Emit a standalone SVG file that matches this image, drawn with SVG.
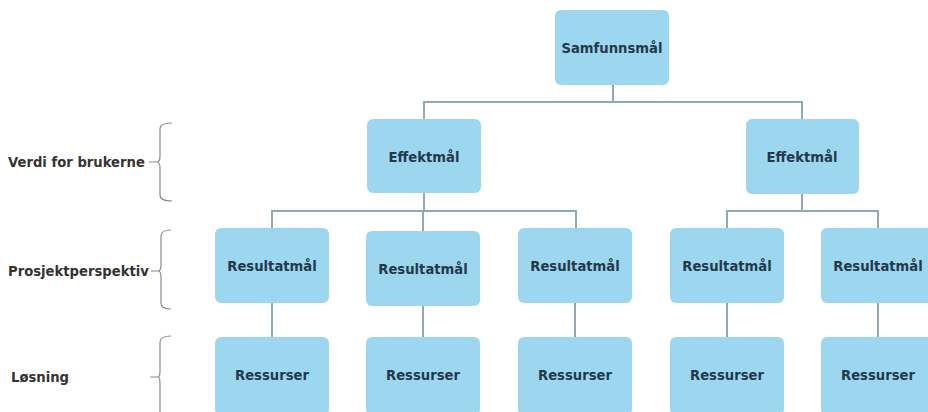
<svg xmlns="http://www.w3.org/2000/svg" width="928" height="412" viewBox="0 0 928 412">
  <style>
    .box { fill: #9dd6ef; }
    .lbl { font-family: "DejaVu Sans", Verdana, sans-serif; font-weight: bold; font-size: 13.2px; fill: #23394a; text-anchor: middle; dominant-baseline: central; }
    .side { font-family: "DejaVu Sans", Verdana, sans-serif; font-weight: bold; font-size: 13.2px; fill: #333333; dominant-baseline: central; }
    .conn { fill: none; stroke: #8eaab9; stroke-width: 2; }
    .brace { fill: none; stroke: #8a8a8a; stroke-width: 1.2; }
  </style>

  <rect width="928" height="412" fill="#ffffff"/>

  <!-- connectors -->
  <g id="connectors" class="conn">
    <path d="M613,85 V102 M424,119 V102 H802 V119"/>
    <path d="M424,193 V211 M272,228 V211 H576 V228 M423,211 V231"/>
    <path d="M802,194 V211 M727,228 V211 H878 V228"/>
    <path d="M272,303 V337 M423,306 V337 M575,303 V337 M727,303 V337 M878,303 V337"/>
  </g>

  <!-- level brackets -->
  <g id="level-verdi">
    <text class="side" x="8" y="162">Verdi for brukerne</text>
    <path class="brace" d="M149,162 H157 M172,123 Q160,123 160,129 V156 Q160,162 157,162 Q160,162 160,168 V195 Q160,201 172,201"/>
  </g>
  <g id="level-prosjekt">
    <text class="side" x="8" y="271">Prosjektperspektiv</text>
    <path class="brace" d="M151,271 H158 M171,230 Q161,230 161,236 V265 Q161,271 158,271 Q161,271 161,277 V303 Q161,309 171,309"/>
  </g>
  <g id="level-losning">
    <text class="side" x="11" y="377">Løsning</text>
    <path class="brace" d="M150,377 H158 M171,336 Q160,336 160,342 V371 Q160,377 158,377 Q160,377 160,383 V412"/>
  </g>

  <!-- top -->
  <g id="samfunnsmal">
    <rect class="box" x="555" y="10" width="114" height="75" rx="6"/>
    <text class="lbl" x="612" y="48">Samfunnsmål</text>
  </g>

  <!-- effect goals -->
  <g id="effektmal-1">
    <rect class="box" x="367" y="119" width="114" height="74" rx="6"/>
    <text class="lbl" x="424" y="157">Effektmål</text>
  </g>
  <g id="effektmal-2">
    <rect class="box" x="746" y="119" width="113" height="75" rx="6"/>
    <text class="lbl" x="802" y="157">Effektmål</text>
  </g>

  <!-- result goals -->
  <g id="resultatmal-1">
    <rect class="box" x="215" y="228" width="114" height="75" rx="6"/>
    <text class="lbl" x="272" y="266">Resultatmål</text>
  </g>
  <g id="resultatmal-2">
    <rect class="box" x="366" y="231" width="114" height="75" rx="6"/>
    <text class="lbl" x="423" y="269">Resultatmål</text>
  </g>
  <g id="resultatmal-3">
    <rect class="box" x="518" y="228" width="114" height="75" rx="6"/>
    <text class="lbl" x="575" y="266">Resultatmål</text>
  </g>
  <g id="resultatmal-4">
    <rect class="box" x="670" y="228" width="114" height="75" rx="6"/>
    <text class="lbl" x="727" y="266">Resultatmål</text>
  </g>
  <g id="resultatmal-5">
    <rect class="box" x="821" y="228" width="114" height="75" rx="6"/>
    <text class="lbl" x="878" y="266">Resultatmål</text>
  </g>

  <!-- resources -->
  <g id="ressurser-1">
    <rect class="box" x="215" y="337" width="114" height="78" rx="6"/>
    <text class="lbl" x="272" y="375">Ressurser</text>
  </g>
  <g id="ressurser-2">
    <rect class="box" x="366" y="337" width="114" height="78" rx="6"/>
    <text class="lbl" x="423" y="375">Ressurser</text>
  </g>
  <g id="ressurser-3">
    <rect class="box" x="518" y="337" width="114" height="78" rx="6"/>
    <text class="lbl" x="575" y="375">Ressurser</text>
  </g>
  <g id="ressurser-4">
    <rect class="box" x="670" y="337" width="114" height="78" rx="6"/>
    <text class="lbl" x="727" y="375">Ressurser</text>
  </g>
  <g id="ressurser-5">
    <rect class="box" x="821" y="337" width="114" height="78" rx="6"/>
    <text class="lbl" x="878" y="375">Ressurser</text>
  </g>
</svg>
